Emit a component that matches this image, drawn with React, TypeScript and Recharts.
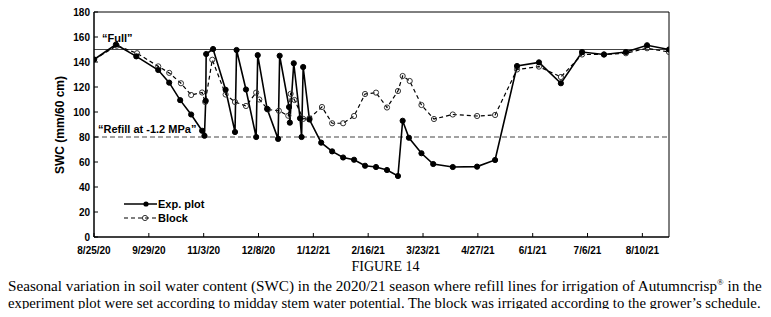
import React, { useLayoutEffect, useRef, useState } from "react"
import { LineChart, Line, XAxis, YAxis, ReferenceLine } from "recharts"

// days since 8/25/20
const xTickDays = [0, 35, 70, 105, 140, 175, 210, 245, 280, 315, 350]
const xTickLabels = ["8/25/20", "9/29/20", "11/3/20", "12/8/20", "1/12/21", "2/16/21", "3/23/21", "4/27/21", "6/1/21", "7/6/21", "8/10/21"]
const yTicks = [0, 20, 40, 60, 80, 100, 120, 140, 160, 180]

const expDays = [0, 14, 27, 41, 48, 55, 62, 69, 70.5, 71.3, 71.6, 76, 84, 90, 91, 97, 103.5, 104.5, 110.5, 117.5, 118.5, 124.5, 125, 127.5, 131.5, 132.5, 133.5, 137.5, 145, 152, 159, 166, 173, 180, 187, 194, 197, 201, 209, 216.5, 229, 244.5, 256, 270, 284, 298, 311.5, 325.5, 339.5, 353, 367]
const expSwc = [142, 154, 144.5, 133.6, 123.5, 109.5, 98, 85, 81, 109, 146.4, 150.4, 117.8, 84, 149.6, 118, 80, 145.5, 102.5, 78.5, 145, 104, 91.5, 139, 95, 80, 136, 94, 75.5, 68.5, 63.6, 61.8, 57, 56, 53.6, 48.8, 93, 79.4, 67, 58.4, 56, 56.3, 61.6, 136.8, 139.7, 123, 148, 146, 148, 153.4, 150]

const blockDays = [0, 14.5, 27.5, 41, 48, 55.5, 62, 69, 71, 75.5, 84, 90, 97, 103.5, 105.5, 111, 118, 124, 125.5, 128, 133.5, 137.5, 145.5, 152, 159, 166, 173, 180, 187, 194, 197, 201.5, 209, 217, 229, 244.5, 256, 270, 284, 298, 311.5, 325.5, 339.5, 353, 367]
const blockSwc = [142, 153, 147, 136.5, 131.3, 123, 113.6, 115.6, 108, 141.8, 114, 108, 104.8, 115.5, 110, 102, 101, 97, 114.5, 109.6, 94.5, 95, 104, 91, 91, 96.8, 114.4, 115.5, 103.6, 116.8, 128.8, 124.8, 105.6, 94.4, 98, 96.8, 97.6, 134, 136.3, 128, 146, 146, 147, 151, 148]

const fullLevel = 150
const refillLevel = 80
const xMax = 367

const expData = expDays.map((d, i) => ({ day: d, swc: expSwc[i] }))
const blockData = blockDays.map((d, i) => ({ day: d, swc: blockSwc[i] }))

const FONT = "'Liberation Sans', Arial, sans-serif"
const SERIF = "'Liberation Serif', 'Times New Roman', serif"

function LegendBox() {
  return (
    <svg width={100} height={32} style={{ display: "block" }}>
      <line x1={4} y1={8} x2={37} y2={8} stroke="#000" strokeWidth={1.6} />
      <circle cx={26} cy={8} r={2.6} fill="#000" />
      <text x={38} y={12} fontFamily={FONT} fontWeight="bold" fontSize={11} fill="#000">Exp. plot</text>
      <line x1={4} y1={22} x2={37} y2={22} stroke="#000" strokeWidth={1.2} strokeDasharray="4 3" />
      <circle cx={25} cy={22} r={2.6} fill="none" stroke="#333" strokeWidth={1} />
      <text x={38} y={26} fontFamily={FONT} fontWeight="bold" fontSize={11} fill="#000">Block</text>
    </svg>
  )
}

// one caption line squeezed to a fixed width
function FitLine({ left, width, top, children }: { left: number; width: number; top: number; children: React.ReactNode }) {
  const ref = useRef<HTMLSpanElement>(null)
  const [scale, setScale] = useState(1)
  useLayoutEffect(() => {
    const measure = () => {
      if (ref.current) {
        const w = ref.current.offsetWidth
        if (w > 0) setScale(width / w)
      }
    }
    measure()
    if (document.fonts) document.fonts.ready.then(measure)
  }, [width])
  return (
    <div style={{ position: "absolute", left, top, width: 0, overflow: "visible", whiteSpace: "nowrap", fontFamily: SERIF, fontSize: 14, lineHeight: "16px", color: "#000" }}>
      <span ref={ref} style={{ display: "inline-block", transform: `scaleX(${scale})`, transformOrigin: "left top" }}>
        {children}
      </span>
    </div>
  )
}

export default function App() {
  return (
    <div style={{ position: "relative", width: 771, height: 317, margin: -8, background: "#fff", overflow: "hidden" }}>
      <LineChart width={771} height={260} margin={{ top: 12, right: 102, left: 34, bottom: 3 }}>
        <XAxis
          type="number"
          dataKey="day"
          domain={[0, xMax]}
          ticks={xTickDays}
          tickFormatter={(v) => xTickLabels[xTickDays.indexOf(v)] ?? ""}
          height={20}
          tickSize={-4}
          tickMargin={14}
          axisLine={{ stroke: "#000", strokeWidth: 1.5 }}
          tickLine={{ stroke: "#000" }}
          tick={{ fontSize: 10, fontWeight: "bold", fill: "#000", fontFamily: FONT }}
          allowDataOverflow
        />
        <YAxis
          type="number"
          domain={[0, 180]}
          ticks={yTicks}
          width={60}
          tickSize={-4}
          tickMargin={8}
          axisLine={{ stroke: "#000", strokeWidth: 1.5 }}
          tickLine={{ stroke: "#000" }}
          tick={{ fontSize: 10, fontWeight: "bold", fill: "#000", fontFamily: FONT }}
          label={{
            content: () => (
              <text x={64} y={125} transform="rotate(-90 64 125)" textAnchor="middle" fontFamily={FONT} fontWeight="bold" fontSize={12} fill="#000">
                SWC (mm/60 cm)
              </text>
            ),
          }}
        />
        <ReferenceLine y={180} stroke="#000" strokeWidth={1} />
        <ReferenceLine x={xMax} stroke="#000" strokeWidth={1} />
        <ReferenceLine
          y={fullLevel}
          stroke="#444"
          strokeWidth={1.2}
          label={{ value: "\u201cFull\u201d", position: "insideBottomLeft", offset: 8, fontSize: 11, fontWeight: "bold", fill: "#000", fontFamily: FONT }}
        />
        <ReferenceLine
          y={refillLevel}
          stroke="#444"
          strokeWidth={1.2}
          strokeDasharray="5 3"
          label={{ value: "\u201cRefill at -1.2 MPa\u201d", position: "insideBottomLeft", offset: 4, fontSize: 11, fontWeight: "bold", fill: "#000", fontFamily: FONT }}
        />
        <Line
          data={blockData}
          dataKey="swc"
          name="Block"
          type="linear"
          stroke="#000"
          strokeWidth={1.2}
          strokeDasharray="4 3"
          dot={{ r: 2.6, fill: "none", stroke: "#333", strokeWidth: 1, strokeDasharray: "" }}
          isAnimationActive={false}
        />
        <Line
          data={expData}
          dataKey="swc"
          name="Exp. plot"
          type="linear"
          stroke="#000"
          strokeWidth={1.6}
          dot={{ r: 2.6, fill: "#000", stroke: "#000", strokeWidth: 1 }}
          isAnimationActive={false}
        />
      </LineChart>
      <div style={{ position: "absolute", left: 120, top: 196 }}>
        <LegendBox />
      </div>
      <div style={{ position: "absolute", left: 0, top: 259, width: 771, textAlign: "center", fontFamily: SERIF, fontSize: 14, lineHeight: "16px" }}>
        FIGURE 14
      </div>
      <FitLine left={8} width={754} top={279}>
        Seasonal variation in soil water content (SWC) in the 2020/21 season where refill lines for irrigation of Autumncrisp
        <sup style={{ fontSize: 8, lineHeight: 0 }}>®</sup> in the
      </FitLine>
      <FitLine left={8} width={753} top={296}>
        experiment plot were set according to midday stem water potential. The block was irrigated according to the grower’s schedule.
      </FitLine>
    </div>
  )
}
